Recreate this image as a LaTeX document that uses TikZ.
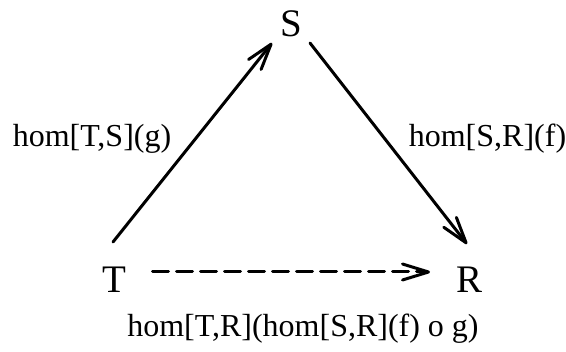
\documentclass[tikz,border=0pt]{standalone}
\usepackage{fontspec}
\setmainfont{Liberation Serif}
\usetikzlibrary{arrows.meta}
\begin{document}
\begin{tikzpicture}[x=1pt,y=-1pt,
  obj/.style={anchor=base,inner sep=0pt,font=\fontsize{39}{39}\selectfont},
  lbl/.style={anchor=base,inner sep=0pt,font=\fontsize{32}{32}\selectfont},
  arr/.style={line width=3pt,line cap=round,-{Straight Barb[length=26pt,width=16pt,line width=3pt,round]}},
  darr/.style={arr,dash pattern=on 16pt off 8pt}]
\useasboundingbox (0,0) rectangle (566,352);
\node[obj] (S) at (291,37) {S};
\node[obj] (T) at (114.5,293) {T};
\node[obj] (R) at (470,293) {R};
\node[lbl] (lts) at (92,147) {hom[T,S](g)};
\node[lbl] (lsr) at (487.5,147) {hom[S,R](f)};
\node[lbl] (ltr) at (303,337) {hom[T,R](hom[S,R](f) o g)};
\draw[arr] ([shift={(-1.5,-51)}]T.base) -- ([shift={(-19,6)}]S.base);
\draw[arr] ([shift={(19,6)}]S.base) -- ([shift={(-3,-49)}]R.base);
\draw[darr] ([shift={(38,-21)}]T.base) -- ([shift={(-40,-21)}]R.base);
\end{tikzpicture}
\end{document}
